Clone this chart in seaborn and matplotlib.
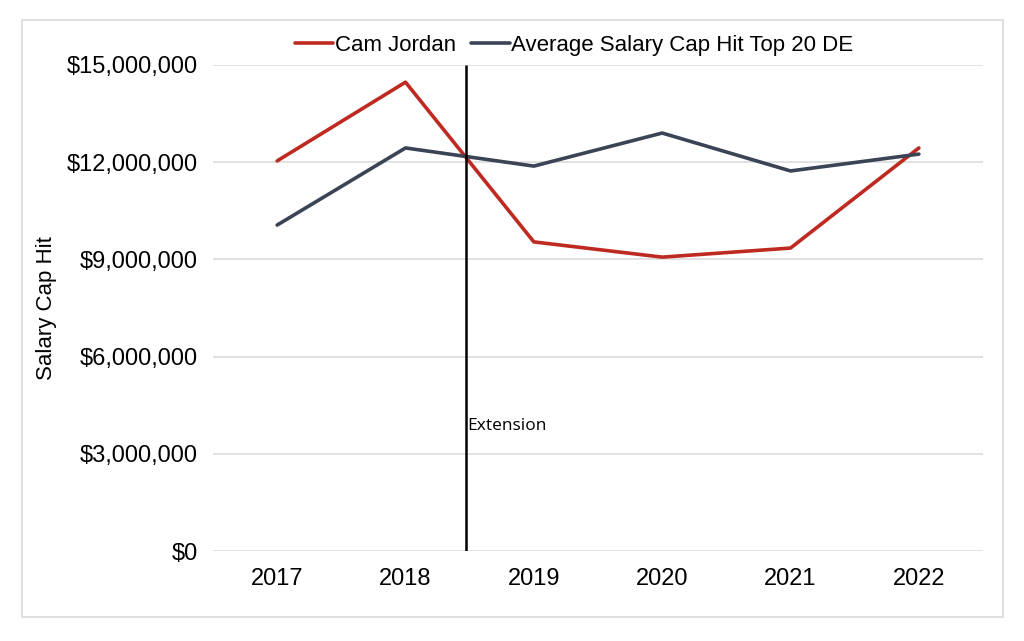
import pandas as pd
import matplotlib.pyplot as plt
import seaborn as sns
from matplotlib.patches import Rectangle
from matplotlib.ticker import FuncFormatter

years = ["2017", "2018", "2019", "2020", "2021", "2022"]
cam_jordan = [12040000, 14470000, 9540000, 9070000, 9350000, 12440000]
avg_top20_de = [10060000, 12440000, 11880000, 12900000, 11730000, 12250000]
series_names = ["Cam Jordan", "Average Salary Cap Hit Top 20 DE"]
extension_pos = 1.47


def main():
    sns.set_theme(style="white")
    plt.rcParams['font.family'] = ['Liberation Sans', 'DejaVu Sans']

    data = pd.DataFrame({
        'year': years * 2,
        'cap': cam_jordan + avg_top20_de,
        'series': [series_names[0]] * len(years) + [series_names[1]] * len(years),
    })

    fig = plt.figure(figsize=(10.24, 6.41), dpi=100)
    ax = fig.add_axes([0.208, 0.1404, 0.752, 0.7582])

    sns.lineplot(data=data, x='year', y='cap', hue='series', sort=False,
                 palette=['#BE2A21', '#3A4454'], linewidth=2.6, ax=ax,
                 legend=True)

    ax.set_xlim(-0.5, 5.5)
    ax.set_ylim(0, 15000000)
    ax.set_yticks(range(0, 15000001, 3000000))
    ax.yaxis.set_major_formatter(FuncFormatter(lambda v, p: f"${v:,.0f}"))
    ax.grid(axis='y', color='#D9D9D9', linewidth=1.1)
    ax.grid(axis='x', visible=False)
    for s in ax.spines.values():
        s.set_visible(False)
    ax.tick_params(axis='both', labelsize=17, length=0, colors='black')
    ax.tick_params(axis='y', pad=11)
    ax.tick_params(axis='x', pad=12)
    ax.set_xlabel('')
    ax.set_ylabel('Salary Cap Hit', fontsize=16, color='black')
    ax.yaxis.set_label_coords(-0.202, 0.5)

    # extension marker
    ax.vlines(extension_pos, 0, 15000000, color='black', linewidth=1.8, zorder=5)
    ax.text(extension_pos + 0.01, 3850000, 'Extension', fontsize=12.5,
            family=['Open Sans', 'DejaVu Sans'], color='black',
            va='center', ha='left')

    handles, labels = ax.get_legend_handles_labels()
    leg = ax.legend(handles, labels, loc='center', bbox_to_anchor=(0.5605, 0.929),
                    bbox_transform=fig.transFigure, ncol=2, frameon=False,
                    fontsize=16, handlelength=1.75, handletextpad=0.05,
                    columnspacing=0.7)
    for t in leg.get_texts():
        t.set_color('black')

    # outer frame
    fig.patches.append(Rectangle((0.0215, 0.037), 0.958, 0.932,
                                 transform=fig.transFigure, fill=False,
                                 edgecolor='#D9D9D9', linewidth=1.2))

    fig.savefig('out.png', dpi=100)


if __name__ == '__main__':
    main()
